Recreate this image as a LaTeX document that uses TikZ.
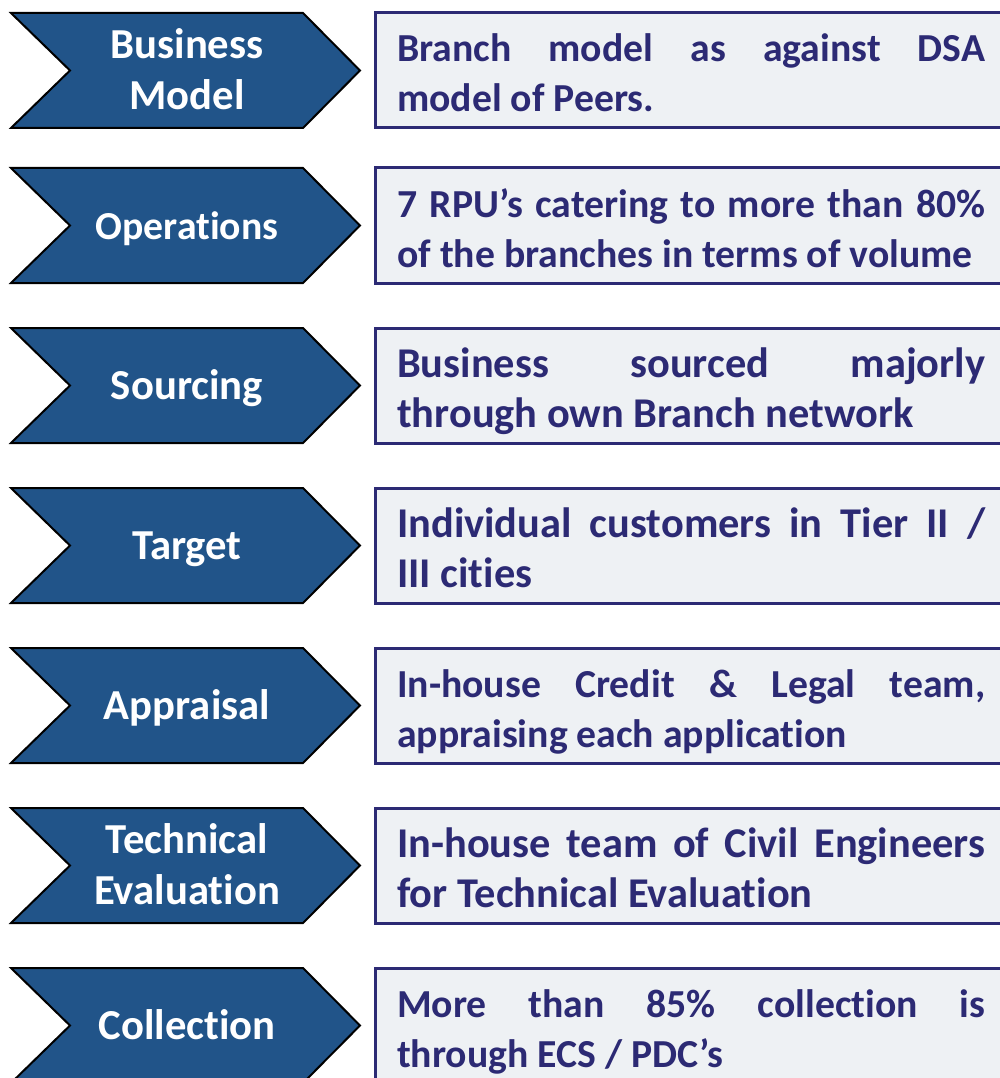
\documentclass[tikz,border=0pt]{standalone}
\usepackage{fontspec}
\setmainfont{Carlito}[Ligatures=NoCommon]
\definecolor{chevfill}{RGB}{33,84,137}
\definecolor{navy}{RGB}{44,42,116}
\definecolor{boxfill}{RGB}{238,241,244}
\begin{document}
\begin{tikzpicture}[x=1pt,y=-1pt,
  chev/.style={fill=chevfill, draw=black, line width=2pt, line join=miter},
  lbl/.style={text=white, align=center, inner sep=0pt},
  infobox/.style={fill=boxfill, draw=navy, line width=3pt},
  info/.style={text=navy, align=left, inner sep=0pt, anchor=west}]
\useasboundingbox (0,0) rectangle (1000,1078);
\clip (0,0) rectangle (1000,1078);
\foreach \T/\id/\ls/\lab/\bs/\first/\second in {
  13/bm/42.7/{Business\\Model}/39.7/{Branch model as against DSA}/{model of Peers.},
  168/op/39.7/{Operations}/39.7/{7 RPU’s catering to more than 80\%}/{of the branches in terms of volume},
  328/so/42.7/{Sourcing}/42.4/{Business sourced majorly}/{through own Branch network},
  488/ta/42.7/{Target}/42.4/{Individual customers in Tier II /}/{III cities},
  648/ap/42.7/{Appraisal}/39.7/{In-house Credit \& Legal team,}/{appraising each application},
  808/te/42.7/{Technical\\Evaluation}/42.4/{In-house team of Civil Engineers}/{for Technical Evaluation},
  968/co/42.7/{Collection}/39.7/{More than 85\% collection is}/{through ECS / PDC’s}}
{
  % chevron on the left
  \draw[chev] (11,\T) -- (303,\T) -- (360,\T+57.5) -- (303,\T+115)
              -- (11,\T+115) -- (70,\T+57.5) -- cycle;
  \node[lbl, font=\fontsize{\ls}{51}\selectfont\bfseries] (\id-label)
    at (187,\T+61) {\strut\lab\strut};
  % description box on the right
  \draw[infobox] (375,\T) rectangle (1010,\T+115);
  \node[info, font=\fontsize{\bs}{50}\selectfont\bfseries] (\id-text) at (397,\T+64)
    {\strut\makebox[588pt][s]{\first}\\\strut\second};
}
\end{tikzpicture}
\end{document}
